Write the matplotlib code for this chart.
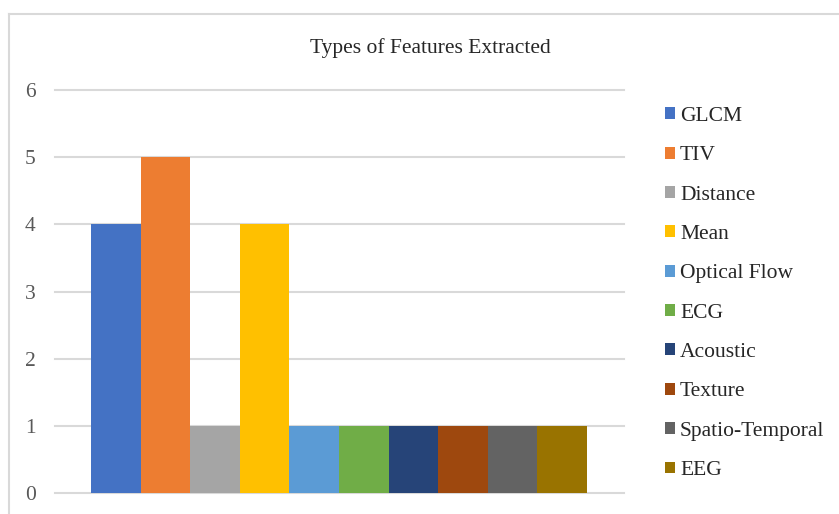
import matplotlib
matplotlib.use("Agg")
import matplotlib.pyplot as plt
from matplotlib.lines import Line2D

# Feature types and how many studies extracted each
features = ["GLCM", "TIV", "Distance", "Mean", "Optical Flow", "ECG",
            "Acoustic", "Texture", "Spatio-Temporal", "EEG"]
counts = [4, 5, 1, 4, 1, 1, 1, 1, 1, 1]
colors = ["#4472C4", "#ED7D31", "#A5A5A5", "#FFC000", "#5B9BD5", "#70AD47",
          "#264478", "#9E480E", "#636363", "#997300"]
yticks = [0, 1, 2, 3, 4, 5, 6]

W, H = 839, 514
plt.rcParams["font.family"] = ["Liberation Serif", "DejaVu Serif"]
fig = plt.figure(figsize=(W / 100, H / 100), dpi=100)

# chart frame (left and top edges visible)
frame_kw = dict(color="#d9d9d9", lw=1.5, transform=fig.transFigure)
fig.add_artist(Line2D([8.5 / W, 8.5 / W], [0, 1 - 13.5 / H], **frame_kw))
fig.add_artist(Line2D([8.5 / W, 1], [1 - 13.5 / H, 1 - 13.5 / H], **frame_kw))

left, right, top, bottom = 55, 624, 90, 493
ax = fig.add_axes([left / W, 1 - bottom / H, (right - left) / W, (bottom - top) / H])
for s in ax.spines.values():
    s.set_visible(False)

for y in yticks:
    ax.axhline(y, color="#d9d9d9", lw=1.5, zorder=0, clip_on=False)

handles = []
for i, (lab, v, c) in enumerate(zip(features, counts, colors)):
    b = ax.bar(i, v, width=1.0, color=c, label=lab, zorder=2)
    handles.append(b)

ax.set_xlim(-1.226, 10.246)
ax.set_ylim(0, 6)
ax.set_xticks([])
ax.set_yticks(yticks)
ax.tick_params(axis="y", length=0, pad=14, labelsize=15.5, labelcolor="#595959")

fig.text(430 / W, 1 - 48 / H, "Types of Features Extracted", ha="center", va="center",
         fontsize=15.5, color="#262626")

fig.legend(handles=handles, labels=features, loc="upper left",
           bbox_to_anchor=(665 / W, 1 - 107 / H), frameon=False,
           fontsize=15.5, handlelength=0.47, handleheight=0.47,
           handletextpad=0.23, labelspacing=0.945, borderpad=0, borderaxespad=0,
           labelcolor="#262626")

fig.savefig("out.png", dpi=100)
